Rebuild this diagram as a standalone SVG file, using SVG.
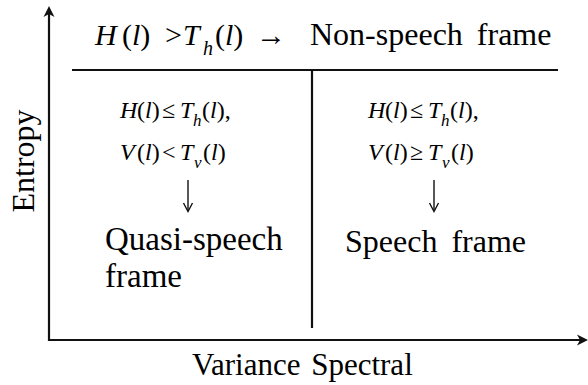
<svg xmlns="http://www.w3.org/2000/svg" width="588" height="385" viewBox="0 0 588 385">
<g id="connectors">
<line x1="49" y1="341" x2="49" y2="14" stroke="#111" stroke-width="2.2"/>
<path d="M49,6 L54.5,17 L49,14 L43.5,17 Z" fill="#111"/>
<line x1="48" y1="340" x2="580" y2="340" stroke="#111" stroke-width="2.2"/>
<path d="M588,340 L577,345.5 L580,340 L577,334.5 Z" fill="#111"/>
<line x1="72" y1="70" x2="558" y2="70" stroke="#111" stroke-width="2.2"/>
<line x1="312" y1="70" x2="312" y2="328" stroke="#111" stroke-width="2.2"/>
<line x1="188" y1="180" x2="188" y2="211" stroke="#111" stroke-width="1.4"/>
<path d="M183.5,203 L188,211.5 L192.5,203" fill="none" stroke="#111" stroke-width="1.4"/>
<line x1="434" y1="180" x2="434" y2="211" stroke="#111" stroke-width="1.4"/>
<path d="M429.5,203 L434,211.5 L438.5,203" fill="none" stroke="#111" stroke-width="1.4"/>
</g>
<g id="non-speech">
<text font-family="Liberation Serif" font-size="30" y="45"><tspan font-style="italic" x="95">H</tspan><tspan x="122">(</tspan><tspan font-style="italic">l</tspan><tspan>)</tspan><tspan x="165">&gt;</tspan><tspan font-style="italic" x="183">T</tspan><tspan font-style="italic" font-size="20" x="203" y="55">h</tspan><tspan x="215" y="45">(</tspan><tspan font-style="italic">l</tspan><tspan>)</tspan><tspan x="256">&#8594;</tspan></text>
<text font-family="Liberation Serif" font-size="32" word-spacing="6" x="310" y="45">Non-speech frame</text>
</g>
<g id="quasi-speech">
<text font-family="Liberation Serif" font-size="24" y="118"><tspan font-style="italic" x="120">H</tspan><tspan x="137">(</tspan><tspan font-style="italic">l</tspan><tspan>)</tspan><tspan x="162">&#8804;</tspan><tspan font-style="italic" x="180">T</tspan><tspan font-style="italic" font-size="17" x="193" y="126">h</tspan><tspan x="202" y="118">(</tspan><tspan font-style="italic">l</tspan><tspan>),</tspan></text>
<text font-family="Liberation Serif" font-size="24" y="160"><tspan font-style="italic" x="120">V</tspan><tspan x="137">(</tspan><tspan font-style="italic">l</tspan><tspan>)</tspan><tspan x="162">&lt;</tspan><tspan font-style="italic" x="180">T</tspan><tspan font-style="italic" font-size="17" x="194" y="168">v</tspan><tspan x="203" y="160">(</tspan><tspan font-style="italic">l</tspan><tspan>)</tspan></text>
<text font-family="Liberation Serif" font-size="33" x="105" y="250">Quasi-speech</text>
<text font-family="Liberation Serif" font-size="33" x="105" y="287">frame</text>
</g>
<g id="speech">
<text font-family="Liberation Serif" font-size="24" y="118"><tspan font-style="italic" x="368">H</tspan><tspan x="385">(</tspan><tspan font-style="italic">l</tspan><tspan>)</tspan><tspan x="410">&#8804;</tspan><tspan font-style="italic" x="428">T</tspan><tspan font-style="italic" font-size="17" x="441" y="126">h</tspan><tspan x="450" y="118">(</tspan><tspan font-style="italic">l</tspan><tspan>),</tspan></text>
<text font-family="Liberation Serif" font-size="24" y="160"><tspan font-style="italic" x="368">V</tspan><tspan x="385">(</tspan><tspan font-style="italic">l</tspan><tspan>)</tspan><tspan x="410">&#8805;</tspan><tspan font-style="italic" x="428">T</tspan><tspan font-style="italic" font-size="17" x="442" y="168">v</tspan><tspan x="451" y="160">(</tspan><tspan font-style="italic">l</tspan><tspan>)</tspan></text>
<text font-family="Liberation Serif" font-size="32" word-spacing="6" x="345" y="252">Speech frame</text>
</g>
<g id="axis-labels">
<text font-family="Liberation Serif" font-size="31" word-spacing="3" x="192" y="375">Variance Spectral</text>
<text font-family="Liberation Serif" font-size="32" transform="translate(34,161) rotate(-90)" text-anchor="middle">Entropy</text>
</g>
</svg>
